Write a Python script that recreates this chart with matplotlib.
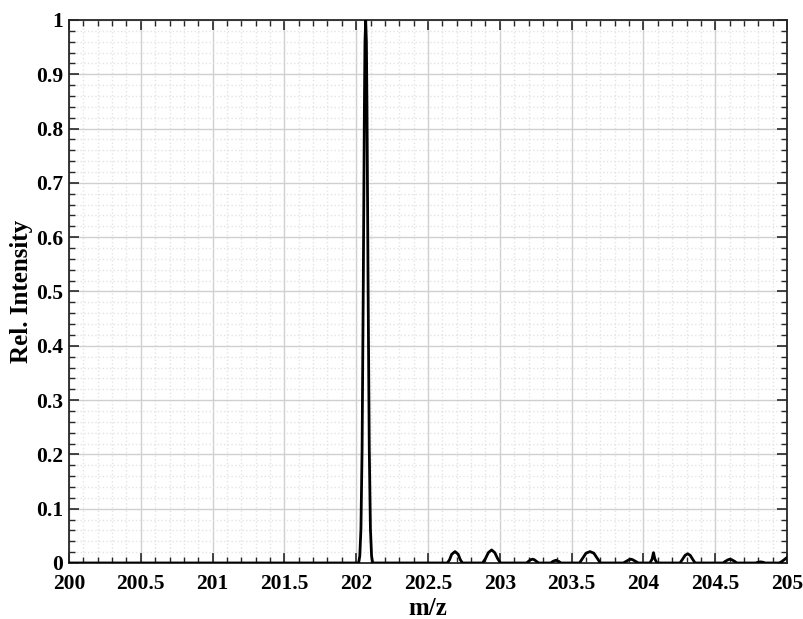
import matplotlib
matplotlib.use("Agg")
import matplotlib.pyplot as plt
from matplotlib.ticker import MultipleLocator, FuncFormatter

plt.rcParams['font.family'] = ['Liberation Serif', 'DejaVu Serif']
plt.rcParams['font.weight'] = 'bold'

# Spectrum trace (m/z, relative intensity)
mz = [200.00, 202.017, 202.025, 202.033, 202.041, 202.049, 202.057, 202.061, 202.066,
      202.071, 202.075, 202.083, 202.091, 202.099, 202.107, 202.115,
      202.635, 202.65, 202.665, 202.688, 202.71, 202.725, 202.74,
      202.88, 202.90, 202.92, 202.943, 202.965, 202.985, 203.005,
      203.185, 203.20, 203.215, 203.228, 203.24, 203.255, 203.27,
      203.355, 203.37, 203.39, 203.41, 203.425,
      203.555, 203.575, 203.60, 203.628, 203.655, 203.68, 203.70,
      203.86, 203.88, 203.90, 203.912, 203.925, 203.945, 203.965,
      204.045, 204.06, 204.07, 204.08, 204.095,
      204.255, 204.27, 204.29, 204.308, 204.326, 204.345, 204.36,
      204.555, 204.57, 204.59, 204.602, 204.615, 204.635, 204.65,
      204.78, 204.80, 204.815, 204.83, 204.85,
      204.945, 204.96, 204.975, 204.99, 205.00]
intensity = [0.0, 0.0, 0.013, 0.063, 0.21, 0.50, 0.84, 0.96, 1.0,
             0.96, 0.84, 0.50, 0.21, 0.063, 0.013, 0.0,
             0.0, 0.006, 0.016, 0.021, 0.016, 0.006, 0.0,
             0.0, 0.008, 0.019, 0.024, 0.019, 0.008, 0.0,
             0.0, 0.003, 0.006, 0.007, 0.006, 0.003, 0.0,
             0.0, 0.003, 0.005, 0.003, 0.0,
             0.0, 0.008, 0.018, 0.021, 0.018, 0.008, 0.0,
             0.0, 0.003, 0.006, 0.007, 0.006, 0.003, 0.0,
             0.0, 0.007, 0.019, 0.007, 0.0,
             0.0, 0.006, 0.014, 0.017, 0.014, 0.006, 0.0,
             0.0, 0.003, 0.006, 0.007, 0.006, 0.003, 0.0,
             0.0, 0.0015, 0.002, 0.0015, 0.0,
             0.0, 0.002, 0.005, 0.008, 0.010]

x_label = "m/z"
y_label = "Rel. Intensity"

fig = plt.figure(figsize=(8.04, 6.19), dpi=100)
ax = fig.add_axes([0.0858, 0.0905, 0.8931, 0.8772])

ax.plot(mz, intensity, color='black', linewidth=2.0, zorder=3, clip_on=True)

ax.set_xlim(200, 205)
ax.set_ylim(0, 1)
ax.xaxis.set_major_locator(MultipleLocator(0.5))
ax.xaxis.set_minor_locator(MultipleLocator(0.1))
ax.yaxis.set_major_locator(MultipleLocator(0.1))
ax.yaxis.set_minor_locator(MultipleLocator(0.02))
fmt = FuncFormatter(lambda v, p: ('%g' % round(v, 6)))
ax.xaxis.set_major_formatter(fmt)
ax.yaxis.set_major_formatter(fmt)

ax.grid(which='major', color='#d0d0d0', linestyle='-', linewidth=1.0)
ax.grid(which='minor', color='#e4e4e4', linestyle=':', linewidth=1.0)
ax.set_axisbelow(True)

ax.tick_params(which='both', direction='in', top=True, right=True, color='#262626')
ax.tick_params(axis='x', which='major', length=7, width=1.2, labelsize=15.5, pad=8)
ax.tick_params(axis='y', which='major', length=7, width=1.2, labelsize=15.5, pad=4)
ax.tick_params(which='minor', length=4, width=1.0)
for lbl in ax.get_xticklabels() + ax.get_yticklabels():
    lbl.set_fontweight('bold')
for s in ax.spines.values():
    s.set_color('#262626')
    s.set_linewidth(1.3)

ax.set_xlabel(x_label, fontsize=18, fontweight='bold', labelpad=2)
ax.set_ylabel(y_label, fontsize=18, fontweight='bold', labelpad=2)

fig.savefig("out.png", dpi=100)
